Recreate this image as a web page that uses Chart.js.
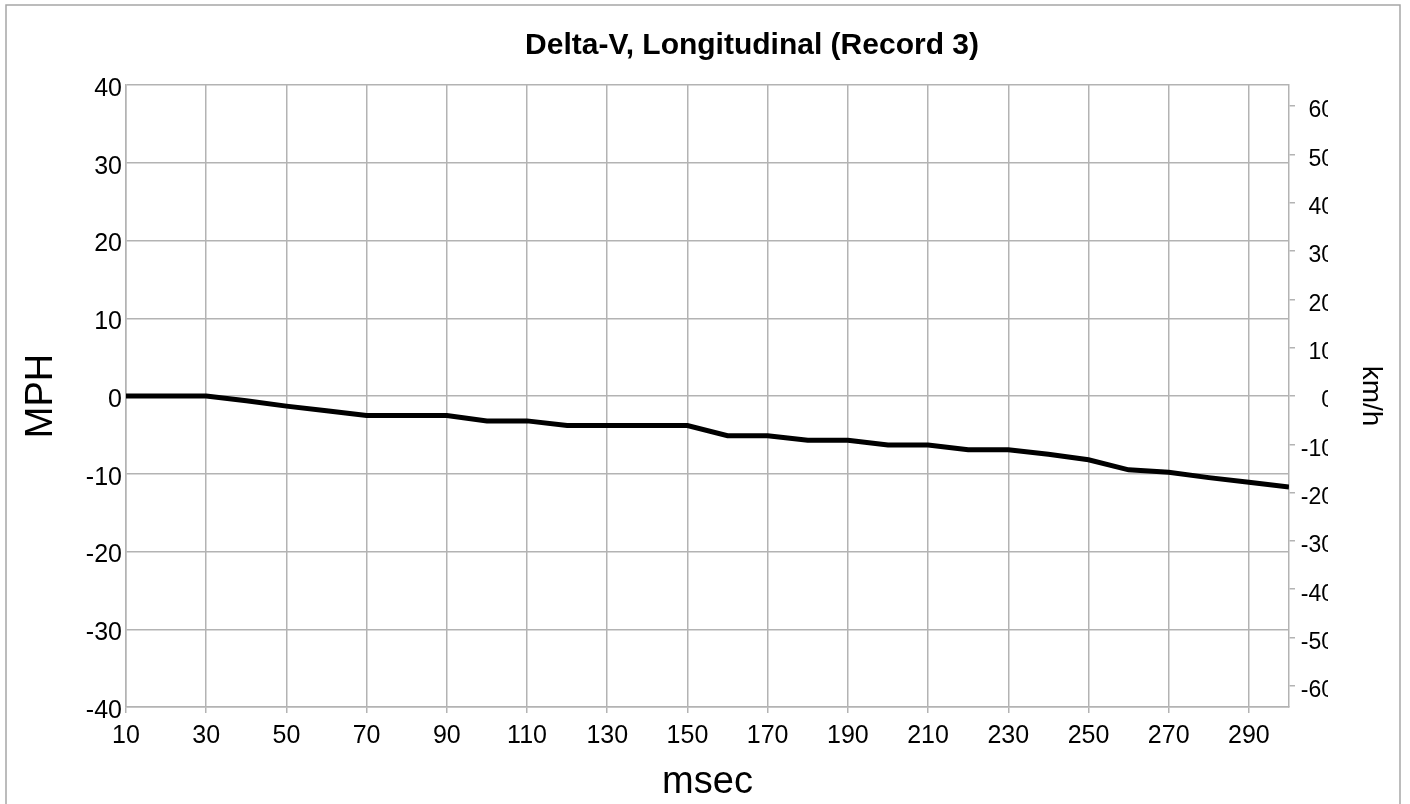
<!DOCTYPE html>
<html>
<head>
<meta charset="utf-8">
<script src="https://cdn.jsdelivr.net/npm/chart.js@4/dist/chart.umd.min.js"></script>
<style>
  body { margin: 0; background: #fff; }
  canvas { display: block; }
</style>
</head>
<body>
<canvas id="dvChart" width="1410" height="804"></canvas>
<script>
// Delta-V longitudinal, record 3
const msec = [10, 20, 30, 40, 50, 60, 70, 80, 90, 100, 110, 120, 130, 140, 150,
              160, 170, 180, 190, 200, 210, 220, 230, 240, 250, 260, 270, 280, 290, 300];
const mph = [0, 0, 0, -0.6, -1.3, -1.9, -2.5, -2.5, -2.5, -3.2, -3.2, -3.8, -3.8, -3.8, -3.8,
             -5.1, -5.1, -5.7, -5.7, -6.3, -6.3, -6.9, -6.9, -7.5, -8.2, -9.5, -9.8, -10.5, -11.1, -11.7];
const xTicks = [10, 30, 50, 70, 90, 110, 130, 150, 170, 190, 210, 230, 250, 270, 290];
const kmhTicks = [60, 50, 40, 30, 20, 10, 0, -10, -20, -30, -40, -50, -60];

const titleText = 'Delta-V, Longitudinal (Record 3)';
const gridColor = '#b3b3b3';
const font = 'Liberation Sans, Arial, sans-serif';
const MPH_TO_KMH = 1.609344;

// title + outer frame + the clipped right-hand labels of the original
const decor = {
    id: 'decor',
    afterDraw(chart) {
        const c = chart.ctx;
        c.save();
        // km/h tick labels are cut off in the original
        c.fillStyle = '#fff';
        c.fillRect(1328, 60, 20, 680);
        c.fillStyle = '#000';
        c.font = 'bold 30px ' + font;
        c.textAlign = 'center';
        c.textBaseline = 'alphabetic';
        c.fillText(titleText, 752, 54);
        c.strokeStyle = '#a6a6a6';
        c.lineWidth = 1.5;
        c.strokeRect(6, 5, 1394, 830);
        c.restore();
    }
};

const ctx = document.getElementById('dvChart').getContext('2d');
const chart = new Chart(ctx, {
    type: 'line',
    data: {
        datasets: [{
            data: msec.map((t, i) => ({ x: t, y: mph[i] })),
            borderColor: '#000',
            borderWidth: 5,
            pointRadius: 0,
            tension: 0,
            yAxisID: 'y'
        }]
    },
    options: {
        responsive: false,
        animation: false,
        layout: { padding: { top: 85, left: 0, right: 76, bottom: 0 } },
        plugins: {
            legend: { display: false },
            tooltip: { enabled: false }
        },
        scales: {
            x: {
                type: 'linear',
                min: 10,
                max: 300,
                afterBuildTicks: s => { s.ticks = xTicks.map(v => ({ value: v })); },
                afterFit: s => { s.height = 97; },
                grid: { color: gridColor, lineWidth: 1.5, tickLength: 6 },
                border: { color: gridColor, width: 1.5 },
                ticks: { color: '#000', font: { family: font, size: 25 }, padding: 8, maxRotation: 0 },
                title: {
                    display: true, text: 'msec', color: '#000',
                    font: { family: font, size: 38, lineHeight: 1 },
                    padding: { top: 0, bottom: 2 }
                }
            },
            y: {
                position: 'left',
                min: -40,
                max: 40,
                ticks: { stepSize: 10, color: '#000', font: { family: font, size: 25 }, padding: 4, labelOffset: 4 },
                afterFit: s => { s.width = 126; },
                grid: { color: gridColor, lineWidth: 1.5, drawTicks: false },
                border: { color: gridColor, width: 1.5 },
                title: {
                    display: true, text: 'MPH', color: '#000',
                    font: { family: font, size: 38, lineHeight: 1 },
                    padding: { top: 23, bottom: 0 }
                }
            },
            y1: {
                position: 'right',
                min: -40 * MPH_TO_KMH,
                max: 40 * MPH_TO_KMH,
                afterBuildTicks: s => { s.ticks = kmhTicks.map(v => ({ value: v })); },
                afterFit: s => { s.width = 45; },
                grid: { drawOnChartArea: false, color: gridColor, lineWidth: 1.5, tickLength: 6 },
                border: { color: gridColor, width: 1.5 },
                ticks: { color: '#000', font: { family: font, size: 23 }, padding: 7, crossAlign: 'far', labelOffset: 5 },
                title: {
                    display: true, text: 'km/h', color: '#000',
                    font: { family: font, size: 28, lineHeight: 1 },
                    padding: { top: -51, bottom: 0 }
                }
            }
        }
    },
    plugins: [decor]
});
</script>
</body>
</html>
